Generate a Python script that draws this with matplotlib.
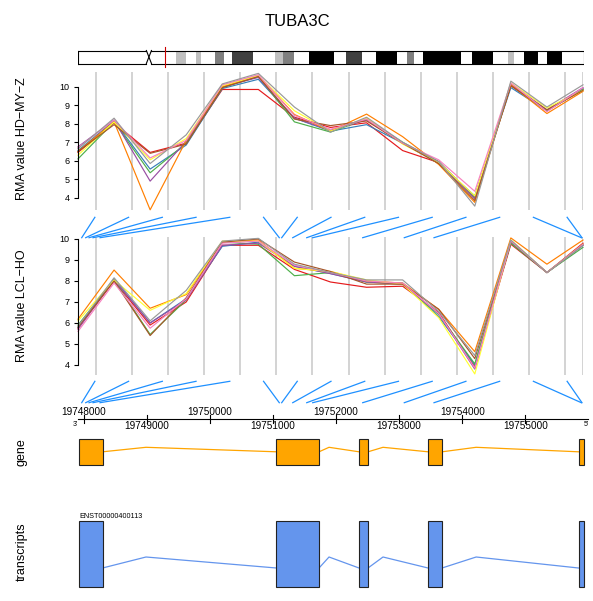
import matplotlib
matplotlib.use("Agg")
import matplotlib.pyplot as plt
from matplotlib.patches import Rectangle
import numpy as np

plt.rcParams["font.family"] = ["Liberation Sans", "DejaVu Sans"]

# ---------------------------------------------------------------- data
gene_name = "TUBA3C"
transcript_id = "ENST00000400113"

# chromosome 13 ideogram (Mb)
chrom_len_mb = 115.17
gene_locus_mb = 19.75
band_edges_mb = [0, 15.56, 16.72, 22.34, 24.57, 26.89, 27.89, 31.28, 33.13, 35.05,
                 39.83, 44.76, 46.61, 49.23, 52.69, 58.16, 61.01, 64.71, 67.79,
                 72.72, 74.80, 76.57, 78.58, 87.28, 89.59, 94.52, 97.76, 99.14,
                 101.46, 104.69, 106.69, 110.16, 115.17]
band_stain = ["gneg", "acen", "gneg", "gpos25", "gneg", "gpos25", "gneg", "gpos50",
              "gneg", "gpos75", "gneg", "gpos25", "gpos50", "gneg", "gpos100", "gneg",
              "gpos75", "gneg", "gpos100", "gneg", "gpos50", "gneg", "gpos100", "gneg",
              "gpos100", "gneg", "gpos25", "gneg", "gpos100", "gneg", "gpos100", "gneg"]

# genomic window and probe locations
region_start = 19747911
region_end = 19755930
probe_pos = [19747970, 19748033, 19748086, 19748149, 19748260, 19751101, 19751139,
             19751314, 19751536, 19751631, 19752423, 19753082, 19753553, 19755888,
             19755898]
axis_ticks = [19748000, 19749000, 19750000, 19751000, 19752000, 19753000,
              19754000, 19755000]

exon_starts = [19747926, 19751055, 19752364, 19753458, 19755843]
exon_ends = [19748300, 19751731, 19752507, 19753680, 19755930]

# RMA expression per sample (9 samples x 15 probes)
rma_hd_my_z = [
    [6.45, 8.05, 6.45, 6.95, 9.85, 9.85, 8.35, 7.80, 8.05, 6.55, 5.90, 4.05, 10.05, 8.70, 9.85],
    [6.55, 8.15, 5.55, 6.85, 9.90, 10.40, 8.30, 7.60, 7.95, 6.95, 5.85, 4.10, 9.95, 8.70, 9.90],
    [6.10, 8.10, 5.35, 6.95, 9.95, 10.55, 8.10, 7.55, 8.25, 7.00, 5.95, 4.00, 10.10, 8.70, 9.85],
    [6.75, 8.20, 4.90, 7.05, 10.00, 10.50, 8.30, 7.65, 8.20, 6.95, 5.95, 3.95, 10.15, 8.75, 9.95],
    [6.50, 8.10, 3.35, 7.10, 10.00, 10.60, 8.50, 7.60, 8.52, 7.30, 5.80, 3.75, 10.10, 8.55, 9.75],
    [6.30, 8.10, 6.05, 7.20, 10.05, 10.60, 8.70, 7.60, 8.30, 6.90, 5.90, 4.10, 10.20, 8.85, 9.80],
    [6.50, 7.95, 6.40, 6.90, 9.95, 10.55, 8.25, 7.90, 8.15, 6.95, 5.85, 3.85, 10.05, 8.75, 9.80],
    [6.70, 8.20, 6.15, 7.10, 10.10, 10.65, 8.45, 7.70, 8.25, 6.95, 6.05, 4.35, 10.20, 8.65, 9.95],
    [6.65, 8.30, 5.85, 7.40, 10.15, 10.72, 8.90, 7.55, 8.35, 7.00, 5.95, 3.55, 10.30, 8.90, 10.10],
]
rma_lcl_ho = [
    [5.75, 8.00, 5.90, 7.00, 9.70, 9.70, 8.55, 7.95, 7.70, 7.75, 6.50, 3.90, 9.75, 8.40, 9.80],
    [5.80, 8.10, 6.00, 7.15, 9.65, 9.85, 8.70, 8.35, 7.95, 7.90, 6.30, 4.00, 9.85, 8.40, 9.70],
    [5.90, 8.05, 5.45, 7.10, 9.85, 9.75, 8.25, 8.40, 7.95, 7.85, 6.40, 4.05, 9.80, 8.40, 9.60],
    [5.70, 8.05, 6.00, 7.10, 9.70, 9.80, 8.70, 8.35, 7.95, 7.85, 6.45, 3.80, 9.90, 8.40, 9.70],
    [6.18, 8.52, 6.70, 7.35, 9.85, 9.95, 8.60, 8.45, 8.00, 7.90, 6.65, 4.63, 10.05, 8.80, 9.95],
    [6.10, 8.05, 6.60, 7.40, 9.90, 9.90, 8.60, 8.45, 8.05, 7.85, 6.25, 3.57, 9.95, 8.40, 9.75],
    [5.80, 8.00, 5.40, 7.20, 9.85, 10.00, 8.90, 8.45, 7.85, 7.85, 6.65, 4.30, 9.90, 8.40, 9.75],
    [5.60, 7.90, 5.75, 7.15, 9.80, 9.90, 8.75, 8.40, 8.00, 7.90, 6.45, 3.85, 9.90, 8.40, 9.75],
    [5.85, 8.15, 6.10, 7.55, 9.90, 10.03, 8.80, 8.40, 8.05, 8.05, 6.55, 4.45, 9.95, 8.40, 9.70],
]

sample_colors = ["#E41A1C", "#377EB8", "#4DAF4A", "#984EA3", "#FF7F00",
                 "#FFFF33", "#A65628", "#F781BF", "#999999"]
stain_colors = {"gneg": "white", "acen": "white", "gpos25": "#C0C0C0",
                "gpos50": "#808080", "gpos75": "#404040", "gpos100": "black"}

# ---------------------------------------------------------------- layout
W, H = 593, 601
fig = plt.figure(figsize=(W / 100, H / 100), dpi=100)
fig.patch.set_facecolor("white")


def px_axes(x0, y0, x1, y1):
    ax = fig.add_axes([x0 / W, 1 - y1 / H, (x1 - x0) / W, (y1 - y0) / H])
    ax.patch.set_alpha(0)
    return ax


def side_label(text, y):
    fig.text(22 / W, 1 - y / H, text, rotation=90, ha="center", va="center",
             fontsize=9)


fig.text(297 / W, 1 - 22 / H, gene_name, ha="center", va="center", fontsize=12)

# ---------------------------------------------------------------- ideogram
ax = px_axes(78, 44, 584, 70)
ax.set_xlim(0, chrom_len_mb)
ax.set_ylim(70, 44)
ax.axis("off")
top, bot = 50.5, 63.5
for (s, e), st in zip(zip(band_edges_mb[:-1], band_edges_mb[1:]), band_stain):
    if st == "acen":
        ax.plot([s, e], [top, bot], color="black", lw=0.8)
        ax.plot([s, e], [bot, top], color="black", lw=0.8)
        cen = (s, e)
        continue
    ax.add_patch(Rectangle((s, top), e - s, bot - top, facecolor=stain_colors[st],
                           edgecolor="none"))
for y in (top, bot):
    ax.plot([0, cen[0]], [y, y], color="black", lw=0.8)
    ax.plot([cen[1], chrom_len_mb], [y, y], color="black", lw=0.8)
ax.plot([0, 0], [top, bot], color="black", lw=0.8)
ax.plot([chrom_len_mb, chrom_len_mb], [top, bot], color="black", lw=0.8)
ax.plot([gene_locus_mb, gene_locus_mb], [47, 66.5], color="#CC0000", lw=0.8)

# ---------------------------------------------------------------- data tracks
n_probe = len(probe_pos)
idx = np.arange(n_probe)


def data_track(y0, y1, ylim, series):
    ax = px_axes(78, y0, 583, y1)
    ax.set_xlim(0, n_probe - 1)
    ax.set_ylim(*ylim)
    for k in range(n_probe - 1):
        ax.axvline(k + 0.5, color="#C8C8C8", lw=1.1, zorder=1)
    ax.axvline(n_probe - 1, color="#C8C8C8", lw=1.1, zorder=1)
    for col, vals in zip(sample_colors, series):
        ax.plot(idx, vals, color=col, lw=0.85, zorder=2, clip_on=False)
    for sp in ("top", "right", "bottom"):
        ax.spines[sp].set_visible(False)
    ax.spines["left"].set_bounds(4, 10)
    ax.spines["left"].set_linewidth(0.8)
    ax.set_yticks([4, 5, 6, 7, 8, 9, 10])
    ax.tick_params(axis="y", length=3, width=0.8, pad=3, labelsize=6.5)
    ax.set_xticks([])
    return ax


data_track(71.7, 210, (3.34, 10.81), rma_hd_my_z)
side_label("RMA value HD\u2212MY\u2212Z", 139)
data_track(237.3, 375, (3.52, 10.08), rma_lcl_ho)
side_label("RMA value LCL\u2212HO", 306)


# ---------------------------------------------------------------- probe mapping
def connector(y0, y1):
    ax = px_axes(78, y0, 584, y1)
    ax.set_xlim(region_start, region_end)
    ax.set_ylim(0, 1)
    ax.axis("off")
    bin_w = (region_end - region_start) / n_probe
    for k, p in enumerate(probe_pos):
        ax.plot([region_start + (k + 0.5) * bin_w, p], [1, 0], color="#1E90FF",
                lw=0.9, clip_on=False)


connector(217.3, 237.7)
connector(381.3, 402.7)

# ---------------------------------------------------------------- genome axis
ax = px_axes(78, 400, 584, 436)
ax.set_xlim(region_start, region_end)
ax.set_ylim(436, 400)
ax.axis("off")
ax.plot([region_start, region_end + 60], [418.5, 418.5], color="black", lw=0.8,
        clip_on=False)
for i, t in enumerate(axis_ticks):
    ax.plot([t, t], [414.5, 422.5], color="black", lw=0.8)
    if i % 2 == 0:
        ax.text(t, 417, str(t), ha="center", va="bottom", fontsize=7.2)
    else:
        ax.text(t, 421, str(t), ha="center", va="top", fontsize=7.2)
ax.text(region_start - 40, 425, "3'", ha="center", va="center", fontsize=5)
ax.text(region_end + 40, 425, "5'", ha="center", va="center", fontsize=5)


# ---------------------------------------------------------------- gene models
def gene_model(y0, y1, box_top, box_bot, line_y, peak_y, fill):
    ax = px_axes(78, y0, 584, y1)
    ax.set_xlim(region_start, region_end)
    ax.set_ylim(y1, y0)
    ax.axis("off")
    for s, e in zip(exon_starts, exon_ends):
        ax.add_patch(Rectangle((s, box_top), e - s, box_bot - box_top,
                               facecolor=fill, edgecolor="#222222", lw=0.8,
                               zorder=3, clip_on=False))
    for e, s in zip(exon_ends[:-1], exon_starts[1:]):
        ax.plot([e, e + 0.25 * (s - e), s], [line_y, peak_y, line_y], color=fill,
                lw=0.9, zorder=2)
    return ax


gene_model(432, 472, 439, 464.5, 451.8, 447.3, "#FFA500")
side_label("gene", 452)
ax = gene_model(505, 595, 521, 587, 568, 557, "#6495ED")
ax.text(exon_starts[0], 519.5, transcript_id, ha="left", va="bottom", fontsize=5.2)
side_label("transcripts", 552)

fig.savefig("out.png", dpi=100, facecolor="white")
